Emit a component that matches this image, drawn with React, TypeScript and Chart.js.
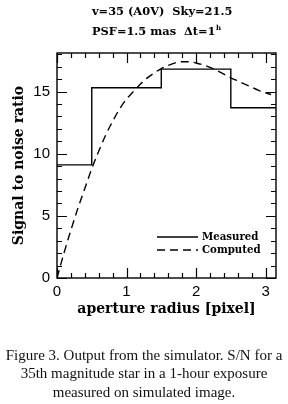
import React, { useEffect, useRef } from 'react';
import { Chart, registerables } from 'chart.js';

Chart.register(...registerables);

// ---- data ----
const titleLine1 = 'v=35 (A0V)  Sky=21.5';
const titleLine2 = 'PSF=1.5 mas  \u0394t=1';
const titleLine2Sup = 'h';
const xTitle = 'aperture radius [pixel]';
const yTitle = 'Signal to noise ratio';
const legendLabels = ['Measured', 'Computed'];
const captionLines = [
  'Figure 3. Output from the simulator. S/N for a',
  '35th magnitude star in a 1-hour exposure',
  'measured on simulated image.',
];

const measuredX = [0, 0.5, 1.5, 2.5, 3.15];
const measuredY = [9.1, 15.3, 16.8, 13.7, 13.7];

const computedX = [0, 0.1, 0.2, 0.3, 0.4, 0.5, 0.6, 0.7, 0.8, 0.9, 1.0, 1.1, 1.2, 1.3, 1.4, 1.5, 1.6, 1.7, 1.8, 1.9, 2.0, 2.1, 2.2, 2.3, 2.4, 2.5, 2.6, 2.7, 2.8, 2.9, 3.0, 3.08];
const computedY = [0, 2.0, 3.85, 5.6, 7.2, 8.8, 10.2, 11.5, 12.6, 13.6, 14.4, 15.0, 15.6, 16.1, 16.5, 16.85, 17.1, 17.3, 17.4, 17.4, 17.3, 17.15, 16.95, 16.7, 16.4, 16.1, 15.85, 15.6, 15.35, 15.1, 14.9, 14.75];

const xMin = 0, xMax = 3.15, xMinorStep = 0.2;
const yMin = 0, yMax = 18.1, yMinorStep = 1, yMajorEvery = 5;

const BOLD_SERIF = '"DejaVu Serif", serif';

const framePlugin = {
  id: 'framePlugin',
  afterDatasetsDraw(chart: any) {
    const { ctx, chartArea: a, scales } = chart;
    const xs = scales.x, ys = scales.y;
    ctx.save();
    ctx.strokeStyle = '#000';
    ctx.lineWidth = 1.4;
    ctx.strokeRect(a.left, a.top, a.right - a.left, a.bottom - a.top);
    ctx.lineWidth = 1.2;
    ctx.beginPath();
    for (const t of xs.ticks) {
      const v = t.value;
      const major = Math.abs(v - Math.round(v)) < 1e-6;
      const len = major ? 10 : 5;
      const px = Math.round(xs.getPixelForValue(v)) + 0.5;
      ctx.moveTo(px, a.bottom); ctx.lineTo(px, a.bottom - len);
      ctx.moveTo(px, a.top); ctx.lineTo(px, a.top + len);
    }
    for (const t of ys.ticks) {
      const v = t.value;
      const major = Math.abs(v / yMajorEvery - Math.round(v / yMajorEvery)) < 1e-6;
      const len = major ? 10 : 5;
      const py = Math.round(ys.getPixelForValue(v)) + 0.5;
      ctx.moveTo(a.left, py); ctx.lineTo(a.left + len, py);
      ctx.moveTo(a.right, py); ctx.lineTo(a.right - len, py);
    }
    ctx.stroke();

    // legend
    const ds = chart.data.datasets;
    ctx.font = `bold 10.2px ${BOLD_SERIF}`;
    ctx.fillStyle = '#000';
    ctx.textBaseline = 'middle';
    ctx.textAlign = 'left';
    const lx0 = a.right - 119, lx1 = a.right - 78, tx = a.right - 74;
    const ly = [a.bottom - 41, a.bottom - 28];
    ds.forEach((d: any, i: number) => {
      ctx.save();
      ctx.lineWidth = d.borderWidth;
      ctx.setLineDash(d.borderDash || []);
      ctx.beginPath();
      ctx.moveTo(lx0, ly[i]); ctx.lineTo(lx1, ly[i]);
      ctx.stroke();
      ctx.restore();
      ctx.fillText(legendLabels[i], tx, ly[i]);
    });

    // titles
    ctx.font = `bold 11.4px ${BOLD_SERIF}`;
    ctx.textAlign = 'left';
    const tx0 = a.left + 35;
    ctx.fillText(titleLine1, tx0, 12);
    ctx.fillText(titleLine2, tx0, 32);
    const w = ctx.measureText(titleLine2).width;
    ctx.font = `bold 7px ${BOLD_SERIF}`;
    ctx.fillText(titleLine2Sup, tx0 + w + 0.5, 28);
    ctx.restore();
  },
};

function ChartView() {
  const ref = useRef<HTMLCanvasElement>(null);
  useEffect(() => {
    if (!ref.current) return;
    const chart = new Chart(ref.current, {
      type: 'line',
      data: {
        datasets: [
          {
            label: legendLabels[0],
            data: measuredX.map((x, i) => ({ x, y: measuredY[i] })),
            stepped: true,
            borderColor: '#000',
            borderWidth: 1.4,
            pointRadius: 0,
            fill: false,
          },
          {
            label: legendLabels[1],
            data: computedX.map((x, i) => ({ x, y: computedY[i] })),
            borderColor: '#000',
            borderWidth: 1.4,
            borderDash: [8, 5],
            pointRadius: 0,
            tension: 0.3,
            cubicInterpolationMode: 'monotone',
            fill: false,
          },
        ],
      },
      options: {
        animation: false,
        responsive: false,
        devicePixelRatio: 1,
        layout: { padding: { top: 53, right: 12, left: 0, bottom: 0 } },
        plugins: { legend: { display: false }, tooltip: { enabled: false }, title: { display: false } },
        scales: {
          x: {
            type: 'linear',
            min: xMin,
            max: xMax,
            grid: { display: false, drawTicks: false },
            border: { display: false },
            ticks: {
              stepSize: xMinorStep,
              autoSkip: false,
              includeBounds: false,
              maxRotation: 0,
              padding: 5,
              color: '#000',
              font: { family: '"Liberation Sans", Arial, sans-serif', size: 15 },
              callback: (v: any) => (Math.abs(v - Math.round(v)) < 1e-6 ? String(Math.round(v)) : ''),
            },
            title: {
              display: true,
              text: xTitle,
              color: '#000',
              font: { family: BOLD_SERIF, size: 14, weight: 'bold' },
              padding: { top: 0, bottom: 86 },
            },
            afterFit: (s: any) => { s.height = 126; },
          },
          y: {
            type: 'linear',
            min: yMin,
            max: yMax,
            grid: { display: false, drawTicks: false },
            border: { display: false },
            ticks: {
              stepSize: yMinorStep,
              autoSkip: false,
              includeBounds: false,
              padding: 7,
              color: '#000',
              font: { family: '"Liberation Sans", Arial, sans-serif', size: 15 },
              callback: (v: any) => (Math.abs(v / yMajorEvery - Math.round(v / yMajorEvery)) < 1e-6 ? String(Math.round(v)) : ''),
            },
            title: {
              display: true,
              text: yTitle,
              color: '#000',
              font: { family: BOLD_SERIF, size: 14, weight: 'bold' },
              padding: { top: 11, bottom: 0 },
            },
            afterFit: (s: any) => { s.width = 57; },
          },
        },
      },
      plugins: [framePlugin],
    } as any);
    return () => chart.destroy();
  }, []);
  return <canvas ref={ref} width={288} height={404} style={{ position: 'absolute', left: 0, top: 0, width: 288, height: 404 }} />;
}

export default function App() {
  return (
    <div style={{ position: 'fixed', left: 0, top: 0, width: 288, height: 404, background: '#fff', overflow: 'hidden' }}>
      <ChartView />
      <div
        style={{
          position: 'absolute',
          left: 0,
          top: 346,
          width: 288,
          textAlign: 'center',
          fontFamily: '"Liberation Serif", "Times New Roman", serif',
          fontSize: 15,
          lineHeight: '18.3px',
          color: '#111',
          whiteSpace: 'nowrap',
        }}
      >
        {captionLines.map((l, i) => (
          <div key={i}>{l}</div>
        ))}
      </div>
    </div>
  );
}
